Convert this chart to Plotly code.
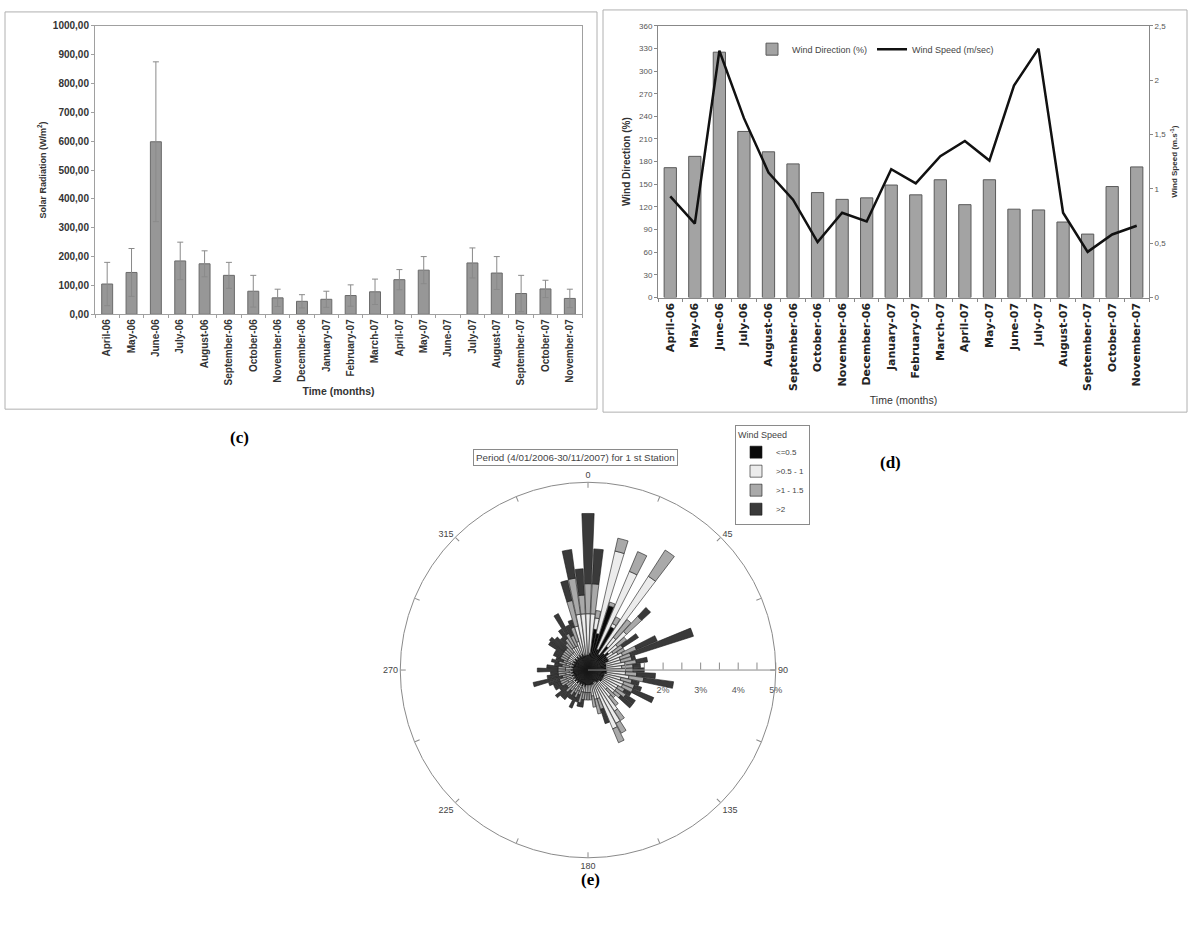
import plotly.graph_objects as go

W, H = 1188, 928

months = ["April-06", "May-06", "June-06", "July-06", "August-06", "September-06",
          "October-06", "November-06", "December-06", "January-07", "February-07",
          "March-07", "April-07", "May-07", "June-07", "July-07", "August-07",
          "September-07", "October-07", "November-07"]

solar_mean = [105, 145, 598, 185, 175, 135, 80, 57, 45, 52, 65, 78, 120, 153,
              None, 178, 143, 72, 88, 55]
solar_sd = [75, 83, 277, 65, 45, 45, 55, 30, 23, 28, 37, 44, 35, 47,
            None, 52, 57, 63, 30, 32]

wind_dir = [172, 187, 325, 220, 193, 177, 139, 130, 132, 149, 136, 156, 123, 156,
            117, 116, 100, 84, 147, 173]
wind_speed = [0.93, 0.68, 2.27, 1.65, 1.15, 0.90, 0.51, 0.78, 0.70, 1.18, 1.05, 1.30,
              1.44, 1.26, 1.95, 2.29, 0.78, 0.42, 0.58, 0.66]

rose_dirs = [0, 5, 10, 15, 20, 25, 30, 35, 40, 45, 50, 55, 60, 65, 70, 75, 80, 85,
             90, 95, 100, 105, 110, 115, 120, 125, 130, 135, 140, 145, 150, 155, 160, 165, 170, 175,
             180, 185, 190, 195, 200, 205, 210, 215, 220, 225, 230, 235, 240, 245, 250, 255, 260, 265,
             270, 275, 280, 285, 290, 295, 300, 305, 310, 315, 320, 325, 330, 335, 340, 345, 350, 355]
speed_classes = ["<=0.5", ">0.5 - 1", ">1 - 1.5", ">2"]
rose_le05 = [0.4, 0.45, 1.1, 1.0, 1.8, 0.6, 1.3, 0.5, 0.8, 0.6, 0.7, 0.6, 0.6, 0.6, 0.5, 0.5, 0.5, 0.5,
             0.5, 0.5, 0.5, 0.45, 0.45, 0.45, 0.45, 0.45, 0.45, 0.4, 0.4, 0.4, 0.35, 0.35, 0.4, 0.4, 0.4, 0.4,
             0.4, 0.4, 0.45, 0.4, 0.45, 0.4, 0.45, 0.4, 0.45, 0.4, 0.45, 0.4, 0.45, 0.4, 0.45, 0.4, 0.45, 0.4,
             0.45, 0.4, 0.45, 0.4, 0.45, 0.4, 0.45, 0.4, 0.45, 0.4, 0.45, 0.4, 0.45, 0.4, 0.45, 0.4, 0.4, 0.4]
rose_05_1 = [1.1, 1.05, 0.3, 2.25, 0.0, 2.25, 0.1, 2.47, 0.3, 0.8, 0.3, 0.2, 0.3, 0.4, 0.4, 0.4, 0.5, 0.4,
             0.5, 0.5, 0.6, 0.45, 0.55, 0.55, 0.45, 0.45, 0.45, 0.3, 0.5, 0.9, 1.25, 1.35, 0.4, 0.4, 0.3, 0.2,
             0.2, 0.2, 0.15, 0.2, 0.05, 0.2, 0.05, 0.2, 0.05, 0.2, 0.05, 0.1, 0.15, 0.1, 0.15, 0.1, 0.15, 0.1,
             0.15, 0.2, 0.05, 0.2, 0.05, 0.2, 0.15, 0.2, 0.15, 0.2, 0.15, 0.3, 0.25, 0.3, 0.35, 0.8, 1.1, 1.1]
rose_1_15 = [0.8, 0.8, 0.2, 0.35, 0.1, 0.57, 0.2, 0.83, 0.6, 0.55, 0.3, 0.3, 0.2, 0.4, 0.3, 0.3, 0.3, 0.3,
             0.2, 0.3, 0.4, 0.3, 0.3, 0.3, 0.2, 0.3, 0.2, 0.3, 0.3, 0.3, 0.3, 0.4, 0.3, 0.4, 0.3, 0.2,
             0.2, 0.2, 0.2, 0.3, 0.2, 0.2, 0.2, 0.2, 0.2, 0.2, 0.2, 0.2, 0.2, 0.3, 0.2, 0.2, 0.2, 0.3,
             0.2, 0.2, 0.2, 0.2, 0.2, 0.2, 0.2, 0.2, 0.2, 0.2, 0.3, 0.3, 0.4, 0.3, 0.4, 0.7, 0.97, 0.5]
rose_gt2 = [1.87, 0.93, 0.0, 0.0, 0.0, 0.0, 0.0, 0.0, 0.0, 0.32, 0.0, 0.5, 0.0, 0.6, 1.75, 0.1, 0.3, 0.2,
            0.3, 0.5, 0.8, 0.2, 0.2, 0.6, 0.2, 0.3, 0.4, 0.0, 0.0, 0.0, 0.0, 0.0, 0.4, 0.0, 0.0, 0.0,
            0.0, 0.0, 0.2, 0.1, 0.2, 0.3, 0.2, 0.1, 0.3, 0.2, 0.4, 0.2, 0.2, 0.2, 0.3, 0.8, 0.3, 0.2,
            0.55, 0.3, 0.2, 0.2, 0.2, 0.2, 0.2, 0.45, 0.5, 0.4, 0.2, 0.3, 0.6, 0.3, 0.2, 0.55, 0.77, 0.7]
rose_colors = ["#0a0a0a", "#ececec", "#a9a9a9", "#3a3a3a"]


def px(x):
    return x / W


def py(y):
    return 1 - y / H


FONT = "Liberation Sans"
fig = go.Figure()

# ---- panel (c) ----
fig.add_trace(go.Bar(
    x=months, y=solar_mean, width=0.45,
    error_y=dict(type="data", array=solar_sd, color="#8a8a8a", thickness=1, width=3),
    marker=dict(color="#979797", line=dict(color="#6a6a6a", width=1)),
    xaxis="x", yaxis="y", showlegend=False))

# ---- panel (d) ----
fig.add_trace(go.Bar(
    x=months, y=wind_dir, width=0.5, name="Wind Direction (%)",
    marker=dict(color="#a3a3a3", line=dict(color="#5a5a5a", width=1)),
    xaxis="x2", yaxis="y2", legend="legend"))
fig.add_trace(go.Scatter(
    x=months, y=wind_speed, mode="lines", name="Wind Speed (m/sec)",
    line=dict(color="#111111", width=2.5),
    xaxis="x2", yaxis="y3", legend="legend"))

# ---- panel (e) ----
for name, vals, col in zip(speed_classes, [rose_le05, rose_05_1, rose_1_15, rose_gt2], rose_colors):
    fig.add_trace(go.Barpolar(
        r=vals, theta=rose_dirs, width=4.5, name=name,
        marker=dict(color=col, line=dict(color="#1a1a1a", width=0.6)),
        subplot="polar", legend="legend2"))

ang_vals = [0, 22.5, 45, 67.5, 90, 112.5, 135, 157.5, 180, 202.5, 225, 247.5, 270, 292.5, 315, 337.5]
ang_text = ["0", "", "45", "", "90", "", "135", "", "180", "", "225", "", "270", "", "315", ""]
rad_vals = [0.5, 1, 1.5, 2, 2.5, 3, 3.5, 4, 4.5, 5]
rad_text = ["", "", "", "<br>2%", "", "<br>3%", "", "<br>4%", "", "<br>5%"]

fig.update_layout(
    width=W, height=H, margin=dict(l=0, r=0, t=0, b=0),
    paper_bgcolor="white", plot_bgcolor="white",
    separators=",.",
    font=dict(family=FONT, size=9, color="#333"),
    xaxis=dict(domain=[px(95), px(582)], anchor="y", type="category",
               tickangle=-90, tickfont=dict(size=10, weight="bold", color="#333"),
               showline=True, linecolor="#a0a0a0", mirror=True,
               ticks="outside", ticklen=3, tickcolor="#a0a0a0", tickson="boundaries",
               title=dict(text="Time (months)", font=dict(size=10.5, weight="bold", color="#333"), standoff=3)),
    yaxis=dict(domain=[py(312), py(20)], anchor="x", range=[0, 1000], dtick=100,
               tickformat=".2f", tickfont=dict(size=10, weight="bold", color="#333"),
               showline=True, linecolor="#a0a0a0", mirror=True, showgrid=False, zeroline=False,
               ticks="outside", ticklen=3, tickcolor="#a0a0a0",
               title=dict(text="Solar Radiation (W/m<sup>2</sup>)",
                          font=dict(size=9, weight="bold", color="#333"), standoff=4)),
    xaxis2=dict(domain=[px(658), px(1149)], anchor="y2", type="category",
                tickangle=-90, tickfont=dict(family="DejaVu Sans", size=11, weight="bold", color="#222"),
                showline=True, linecolor="#888", mirror=True,
                ticks="outside", ticklen=3, tickcolor="#888", tickson="boundaries",
                title=dict(text="Time (months)", font=dict(size=10.5, color="#333"), standoff=6)),
    yaxis2=dict(domain=[py(295), py(20)], anchor="x2", range=[0, 360], dtick=30,
                tickfont=dict(size=8, color="#555"),
                showline=True, linecolor="#888", mirror=True, showgrid=False, zeroline=False,
                ticks="outside", ticklen=3, tickcolor="#888",
                title=dict(text="Wind Direction (%)", font=dict(size=10, weight="bold", color="#333"), standoff=6)),
    yaxis3=dict(overlaying="y2", anchor="x2", side="right", range=[0, 2.5], dtick=0.5,
                tickfont=dict(size=8, color="#555"), showgrid=False, zeroline=False,
                showline=True, linecolor="#888", ticks="outside", ticklen=3, tickcolor="#888",
                title=dict(text="Wind Speed (m.s<sup>-1</sup>)", font=dict(size=8, weight="bold", color="#333"), standoff=6)),
    legend=dict(orientation="h", x=px(752), y=py(29), xanchor="left", yanchor="top",
                traceorder="normal", font=dict(size=9, color="#444"),
                bgcolor="rgba(0,0,0,0)", itemwidth=30),
    legend2=dict(x=px(735), y=py(424), xanchor="left", yanchor="top", traceorder="normal",
                 bordercolor="#8a8a8a", borderwidth=1, bgcolor="white",
                 title=dict(text="Wind Speed", font=dict(size=9, color="#444")),
                 font=dict(size=8, color="#444"), tracegroupgap=0, itemwidth=30),
    polar=dict(
        domain=dict(x=[px(397), px(779)], y=[py(862), py(482)]),
        bgcolor="white", barmode="stack",
        angularaxis=dict(rotation=90, direction="clockwise", tickmode="array",
                         tickvals=ang_vals, ticktext=ang_text, showgrid=False,
                         showline=True, linecolor="#8a8a8a", linewidth=1,
                         ticks="inside", ticklen=5, tickcolor="#8a8a8a",
                         tickfont=dict(size=9, color="#444")),
        radialaxis=dict(range=[0, 5], angle=0, side="clockwise", tickmode="array",
                        tickvals=rad_vals, ticktext=rad_text, showgrid=False,
                        showline=True, linecolor="#8a8a8a", linewidth=1,
                        ticks="inside", ticklen=7, tickcolor="#8a8a8a",
                        tickfont=dict(size=9, color="#555")),
    ),
    shapes=[
        dict(type="rect", xref="paper", yref="paper", x0=px(5), x1=px(597), y0=py(408), y1=py(6),
             line=dict(color="#b0b0b0", width=1)),
        dict(type="rect", xref="paper", yref="paper", x0=px(603), x1=px(1187), y0=py(411), y1=py(4),
             line=dict(color="#b0b0b0", width=1)),
    ],
    annotations=[
        dict(text="<b>(c)</b>", x=px(228), y=py(437), xref="paper", yref="paper", showarrow=False,
             font=dict(family="Liberation Serif", size=17, color="black")),
        dict(text="<b>(d)</b>", x=px(903), y=py(462), xref="paper", yref="paper", showarrow=False,
             font=dict(family="Liberation Serif", size=17, color="black")),
        dict(text="<b>(e)</b>", x=px(590), y=py(884), xref="paper", yref="paper", showarrow=False,
             yanchor="middle", font=dict(family="Liberation Serif", size=17, color="black")),
        dict(text="Period (4/01/2006-30/11/2007) for 1 st Station", x=px(575), y=py(457),
             xref="paper", yref="paper", showarrow=False, bordercolor="#8a8a8a", borderwidth=1,
             borderpad=2, bgcolor="white", font=dict(size=9.8, color="#444")),
    ],
)

fig.write_html("out.html", config={"displayModeBar": False},
               post_script="document.body.style.margin='0px';")
